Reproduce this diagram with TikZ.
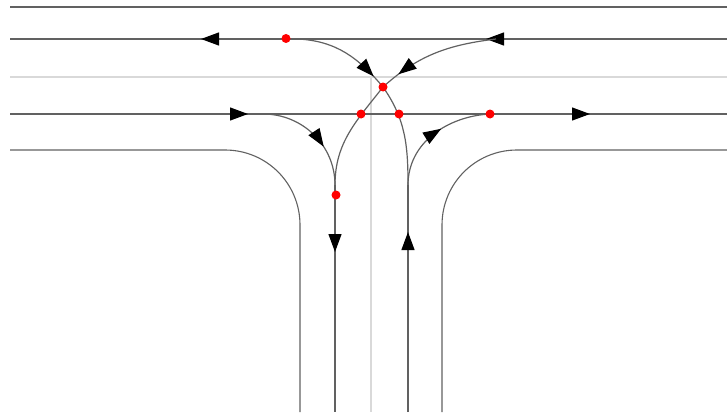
\documentclass[tikz,border=0pt]{standalone}
\usepackage{xcolor}
\usepackage{tikz}
\usetikzlibrary{arrows.meta, decorations.markings}
\definecolor{laneline}{gray}{0.38}
\definecolor{medianline}{gray}{0.85}
\tikzset{
  kerb/.style={draw=laneline, line width=1.1pt},
  median/.style={draw=medianline, line width=1.2pt},
  lane/.style={draw=laneline, line width=1.2pt},
  flow/.style={postaction={decorate, decoration={markings, mark=at position #1 with {\arrow{Triangle[length=18pt, width=13pt, black]}}}}},
  conflict/.style={circle, fill=red, inner sep=0pt, minimum size=9pt}
}

\begin{document}
\begin{tikzpicture}[x=1pt, y=-1pt]
  \useasboundingbox (0,0) rectangle (727,412);
  % road edges and centre lines
  \coordinate (topL) at (10,7);
  \coordinate (topR) at (727,7);
  \coordinate (midL) at (10,77);
  \coordinate (midR) at (727,77);
  \coordinate (midC) at (371,77);
  \coordinate (midS) at (371,412);
  \coordinate (edgeLa) at (10,150);
  \coordinate (edgeLb) at (300,412);
  \coordinate (edgeRa) at (727,150);
  \coordinate (edgeRb) at (442,412);
  \draw[median] (midL) -- (midR);
  \draw[median] (midC) -- (midS);
  \draw[kerb] (topL) -- (topR);
  \draw[kerb] (edgeLa) -- (225,150) to[out=0, in=90] (300,225) -- (edgeLb);
  \draw[kerb] (edgeRa) -- (517,150) to[out=180, in=90] (442,225) -- (edgeRb);
  % free ends of the lanes
  \coordinate (northR) at (727,39);
  \coordinate (northL) at (10,39);
  \coordinate (southL) at (10,114);
  \coordinate (southR) at (727,114);
  \coordinate (downEnd) at (335,412);
  \coordinate (upEnd) at (408,412);
  \coordinate (upTop) at (408,185);
  \coordinate (downTop) at (335,185);
  \coordinate (leaveN) at (298,39);
  \coordinate (leaveR) at (496,39);
  \coordinate (leaveS) at (263,114);
  \coordinate (crossPt) at (383,87);
  % through lanes
  \draw[lane, flow=241pt, flow=526pt] (northR) -- (northL);
  \draw[lane, flow=238pt, flow=580pt] (southL) -- (southR);
  \draw[lane, flow=67pt] (downTop) -- (downEnd);
  \draw[lane, flow=180pt] (upEnd) -- (upTop);
  % turning lanes
  \draw[lane, flow=0.86] (leaveN) to[out=-3, in=130] (crossPt);
  \draw[lane] (crossPt) to[out=-55, in=90] (upTop);
  \draw[lane, flow=0.84] (leaveR) to[out=187, in=42] (crossPt);
  \draw[lane] (crossPt) to[out=-128, in=90] (downTop);
  \draw[lane, flow=0.64] (leaveS) to[out=0, in=90] (downTop);
  \draw[lane, flow=0.57] (upTop) to[out=90, in=183] (490,114);
  % conflict points
  \node[conflict] (westOut) at (286,38.5) {};
  \node[conflict] (cross) at (crossPt) {};
  \node[conflict] (mergeL) at (361,114) {};
  \node[conflict] (mergeR) at (399,114) {};
  \node[conflict] (eastIn) at (490,114) {};
  \node[conflict] (southOut) at (336,195) {};
\end{tikzpicture}
\end{document}
